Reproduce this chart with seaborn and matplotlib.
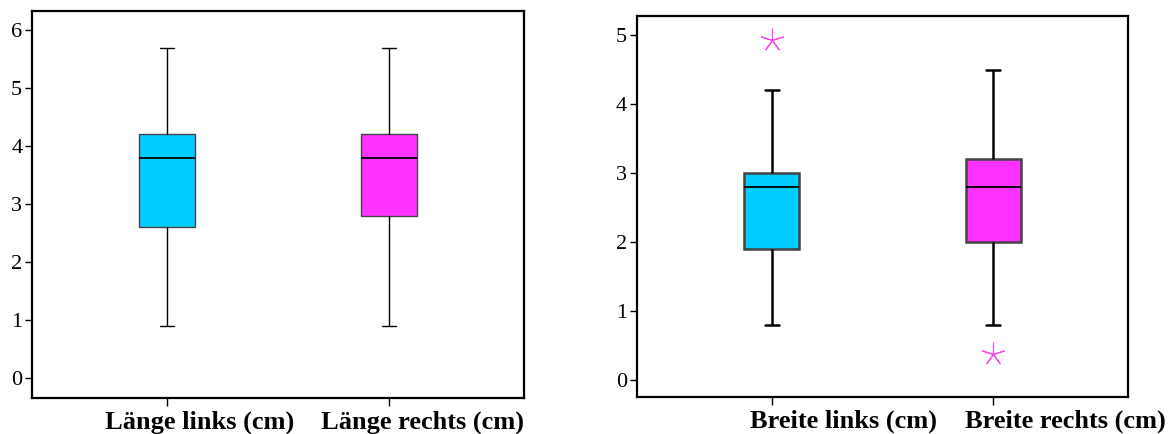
import pandas as pd
import numpy as np
import matplotlib
matplotlib.use("Agg")
import matplotlib.pyplot as plt
import matplotlib.transforms as mtransforms
import seaborn as sns

# ---------------- DADOS ----------------
# pequenas amostras cujos quartis / whiskers reproduzem os boxplots
laenge_links = [0.9, 2.6, 3.8, 4.2, 5.7]
laenge_rechts = [0.9, 2.8, 3.8, 4.2, 5.7]
breite_links = [0.8, 1.5, 1.9, 2.4, 2.8, 2.9, 3.0, 4.2, 4.93]
breite_rechts = [0.38, 0.8, 2.0, 2.4, 2.8, 3.0, 3.2, 3.9, 4.5]

labels_laenge = ["Länge links (cm)", "Länge rechts (cm)"]
labels_breite = ["Breite links (cm)", "Breite rechts (cm)"]
farben = ["#00CCFF", "#FF33FF"]
ausreisser_farbe = "#FF44EE"


def long_df(labels, serien):
    rows = []
    for lab, werte in zip(labels, serien):
        for v in werte:
            rows.append({"var": lab, "wert": v})
    return pd.DataFrame(rows)


df_l = long_df(labels_laenge, [laenge_links, laenge_rechts])
df_b = long_df(labels_breite, [breite_links, breite_rechts])

sns.set_style("white")
plt.rcParams["font.family"] = ["Liberation Serif", "DejaVu Serif"]

fig = plt.figure(figsize=(11.73, 4.34), dpi=100)
ax1 = fig.add_axes([0.0273, 0.083, 0.4194, 0.8917])
ax2 = fig.add_axes([0.543, 0.0853, 0.4186, 0.878])


def zeichne(ax, df, labels, whis, lw, ylim, yticks, label_shift):
    sns.boxplot(data=df, x="var", y="wert", hue="var", order=labels,
                hue_order=labels, palette=farben, saturation=1, legend=False,
                ax=ax, width=0.25, whis=whis, linewidth=lw, linecolor="black",
                boxprops=dict(edgecolor="#444444"),
                medianprops=dict(color="black", linewidth=1.3),
                flierprops=dict(marker=(5, 2, 0), markersize=17,
                                markeredgecolor=ausreisser_farbe,
                                markerfacecolor=ausreisser_farbe,
                                markeredgewidth=0.8))
    # kurze Whisker-Kappen wie im Original
    for ln in ax.lines:
        xs = np.asarray(ln.get_xdata(), dtype=float)
        ys = np.asarray(ln.get_ydata(), dtype=float)
        if len(xs) == 2 and ys[0] == ys[1] and abs(xs[1] - xs[0]) < 0.2:
            c = xs.mean()
            ln.set_xdata([c - 0.032, c + 0.032])
    ax.set_xlim(-0.608, 1.608)
    ax.set_ylim(*ylim)
    ax.set_yticks(yticks)
    ax.set_xlabel("")
    ax.set_ylabel("")
    ax.tick_params(axis="y", labelsize=16, length=5, width=1, direction="out",
                   left=True, pad=2, colors="black")
    ax.tick_params(axis="x", labelsize=19, length=6, width=1, direction="out",
                   bottom=True, pad=3, colors="black")
    verschiebung = mtransforms.ScaledTranslation(label_shift / 100, 0,
                                                 fig.dpi_scale_trans)
    for t in ax.get_xticklabels():
        t.set_fontweight("bold")
        t.set_transform(t.get_transform() + verschiebung)
    for s in ax.spines.values():
        s.set_color("black")
        s.set_linewidth(1.6)


zeichne(ax1, df_l, labels_laenge, 1.5, 1.0, (-0.345, 6.33), range(0, 7), 33)
zeichne(ax2, df_b, labels_breite, 1.2, 1.8, (-0.25, 5.28), range(0, 6), 72)

fig.savefig("out.png", dpi=100)
